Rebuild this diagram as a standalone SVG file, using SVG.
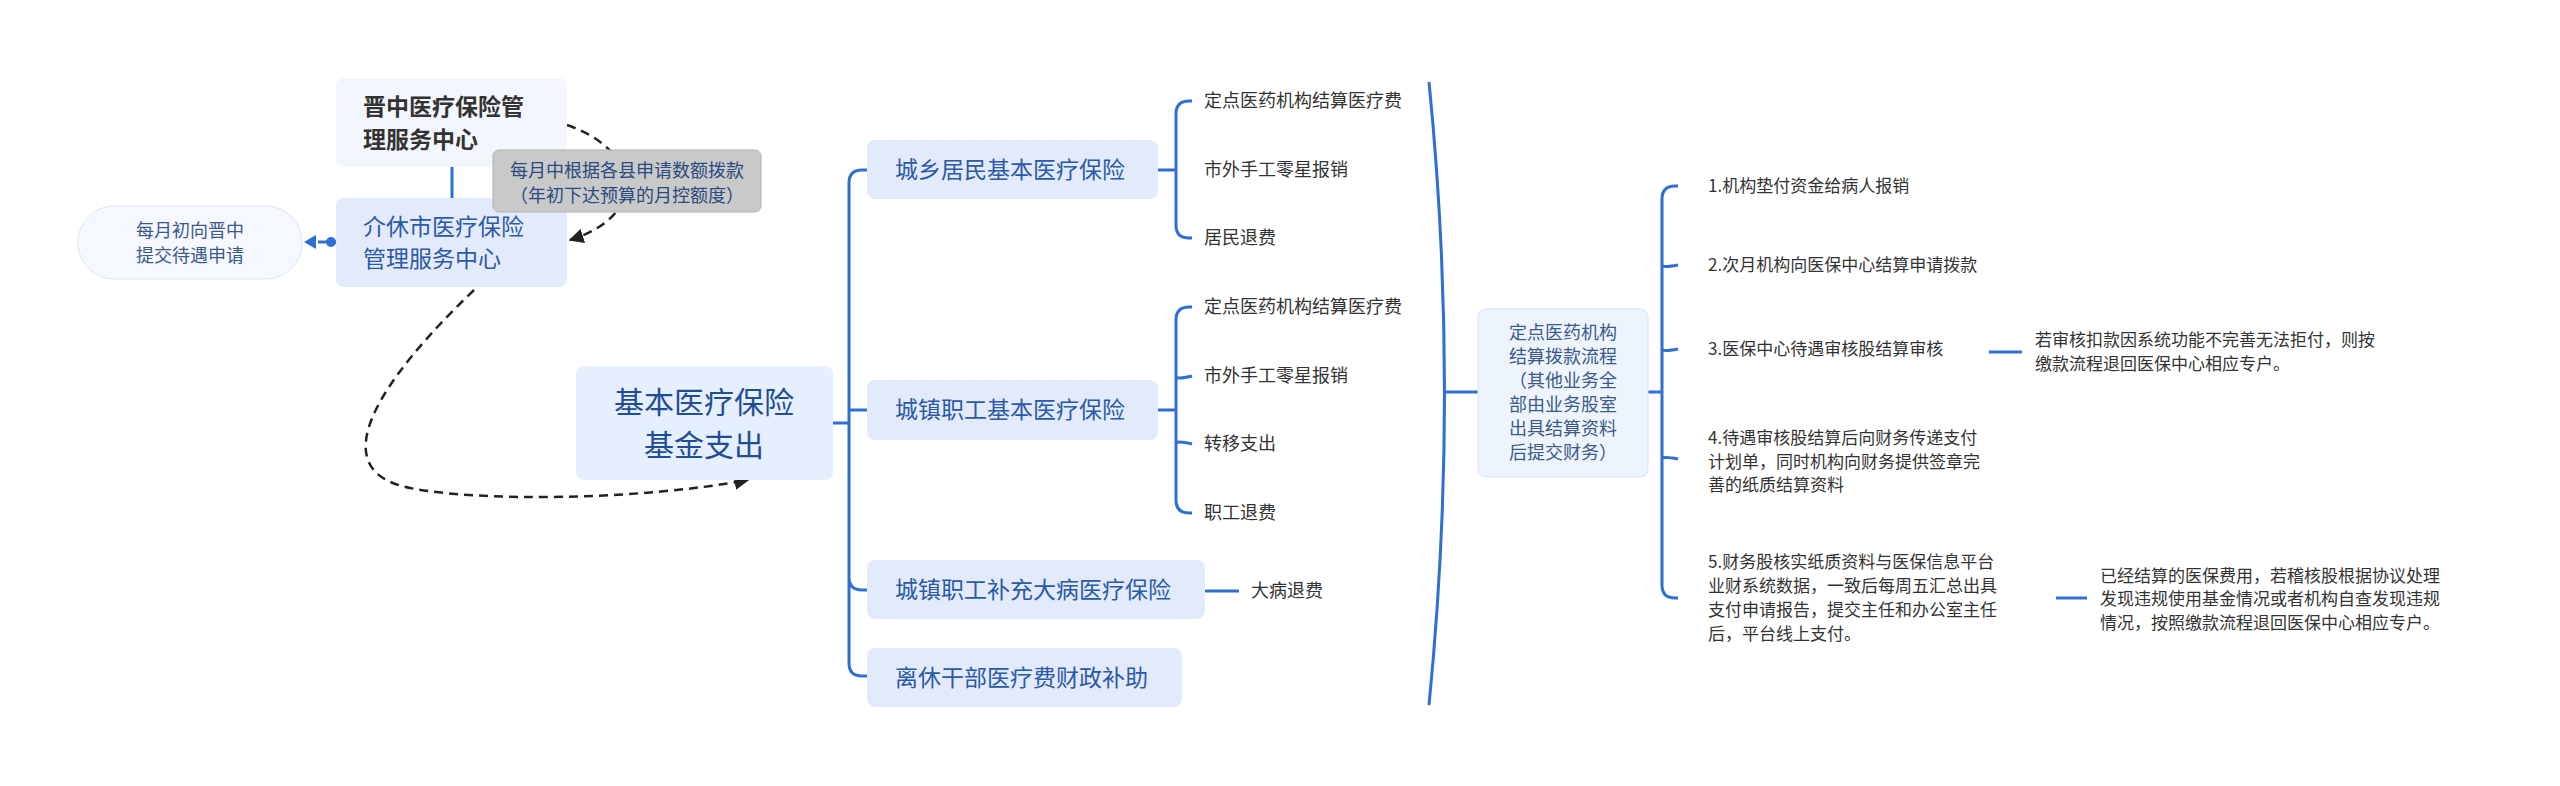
<svg xmlns="http://www.w3.org/2000/svg" width="2560" height="786" viewBox="0 0 2560 786">
<style>
text{font-family:"Noto Sans CJK SC","Noto Sans",sans-serif}
.ln{fill:none;stroke:#2f6fd2;stroke-width:3}
.ds{fill:none;stroke:#222;stroke-width:2.5;stroke-dasharray:9 6}
.l1{fill:#e2eafb}
.t1{font-size:23px;fill:#2a5aa8}
.t2{font-size:18px;fill:#333}
.t3{font-size:17px;fill:#333}
</style>
<defs>
<marker id="ah" viewBox="0 0 10 10" refX="9" refY="5" markerWidth="6" markerHeight="6" orient="auto"><path d="M0,0L10,5L0,10z" fill="#222"/></marker>
</defs>
<rect width="2560" height="786" fill="#fff"/>
<g id="connectors">
<line class="ln" x1="452" y1="167" x2="452" y2="198"/>
<line class="ln" x1="336" y1="242" x2="318" y2="242"/>
<circle cx="331" cy="242" r="5" fill="#2f6fd2"/>
<path d="M304,242L316,235L316,249z" fill="#2f6fd2"/>
<path class="ds" d="M567,125 C640,150 650,215 570,240" marker-end="url(#ah)"/>
<path class="ds" d="M474,290 C380,380 320,470 410,488 C480,502 640,500 748,480" marker-end="url(#ah)"/>
<path class="ln" d="M833,423H849M867,170H862Q849,170 849,183V663Q849,676 862,676H867M849,410H867M849,577Q849,590 862,590H867"/>
<path class="ln" d="M1158,170H1176M1192,101H1189Q1176,101 1176,114V225Q1176,238 1189,238H1192"/>
<path class="ln" d="M1158,410H1176M1192,307H1189Q1176,307 1176,320V500Q1176,513 1189,513H1192M1176,376Q1176,380 1192,376M1176,444Q1176,440 1192,444"/>
<line class="ln" x1="1205" y1="591" x2="1239" y2="591"/>
<path class="ln" d="M1429,82 Q1460,392 1429,705M1445,392H1478"/>
<path class="ln" d="M1648,392H1662M1678,186H1675Q1662,186 1662,199V585Q1662,598 1675,598H1678M1662,265Q1662,268 1678,265M1662,349Q1662,352 1678,349M1662,459Q1662,456 1678,459"/>
<line class="ln" x1="1989" y1="352" x2="2022" y2="352"/>
<line class="ln" x1="2056" y1="598" x2="2087" y2="598"/>
</g>
<g id="n-jinzhong"><rect x="336" y="78" width="231" height="89" rx="8" fill="#f3f6fc"/>
<text x="363" y="115" font-size="23" font-weight="bold" fill="#333">晋中医疗保险管</text><text x="363" y="148" font-size="23" font-weight="bold" fill="#333">理服务中心</text></g>
<g id="n-jiexiu"><rect x="336" y="198" width="231" height="89" rx="8" fill="#e3eafc"/>
<text class="t1" x="363" y="235">介休市医疗保险</text><text class="t1" x="363" y="267">管理服务中心</text></g>
<g id="n-label"><rect x="493" y="150" width="268" height="62" rx="6" fill="#c9c9c9" stroke="#b0b0b0"/>
<text x="627" y="177" font-size="18" fill="#2a4a80" text-anchor="middle">每月中根据各县申请数额拨款</text><text x="627" y="202" font-size="18" fill="#2a4a80" text-anchor="middle">（年初下达预算的月控额度）</text></g>
<g id="n-monthly"><rect x="78" y="206" width="224" height="73" rx="36" fill="#f5f8fe" stroke="#dde5f2"/>
<text x="190" y="237" font-size="18" fill="#3a5a8a" text-anchor="middle">每月初向晋中</text><text x="190" y="262" font-size="18" fill="#3a5a8a" text-anchor="middle">提交待遇申请</text></g>
<g id="n-main"><rect x="576" y="366" width="257" height="114" rx="8" fill="#e6effd"/>
<text x="704" y="413" font-size="30" fill="#1f4e96" text-anchor="middle">基本医疗保险</text><text x="704" y="456" font-size="30" fill="#1f4e96" text-anchor="middle">基金支出</text></g>
<g id="n-cx"><rect class="l1" x="867" y="140" width="291" height="59" rx="8"/><text class="t1" x="895" y="178">城乡居民基本医疗保险</text></g>
<g id="n-cz"><rect class="l1" x="867" y="380" width="291" height="60" rx="8"/><text class="t1" x="895" y="418">城镇职工基本医疗保险</text></g>
<g id="n-bc"><rect class="l1" x="867" y="560" width="338" height="59" rx="8"/><text class="t1" x="895" y="598">城镇职工补充大病医疗保险</text></g>
<g id="n-lx"><rect class="l1" x="867" y="648" width="315" height="59" rx="8"/><text class="t1" x="895" y="686">离休干部医疗费财政补助</text></g>
<g id="n-sub1">
<text class="t2" x="1204" y="107">定点医药机构结算医疗费</text>
<text class="t2" x="1204" y="176">市外手工零星报销</text>
<text class="t2" x="1204" y="244">居民退费</text>
<text class="t2" x="1204" y="313">定点医药机构结算医疗费</text>
<text class="t2" x="1204" y="382">市外手工零星报销</text>
<text class="t2" x="1204" y="450">转移支出</text>
<text class="t2" x="1204" y="519">职工退费</text>
<text class="t2" x="1251" y="597">大病退费</text>
</g>
<g id="n-dd"><rect x="1478" y="309" width="170" height="168" rx="8" fill="#eef4fd" stroke="#d6e2f5"/>
<text x="1563" y="339" font-size="18" fill="#3a5a8a" text-anchor="middle">定点医药机构</text>
<text x="1563" y="363" font-size="18" fill="#3a5a8a" text-anchor="middle">结算拨款流程</text>
<text x="1563" y="387" font-size="18" fill="#3a5a8a" text-anchor="middle">（其他业务全</text>
<text x="1563" y="411" font-size="18" fill="#3a5a8a" text-anchor="middle">部由业务股室</text>
<text x="1563" y="435" font-size="18" fill="#3a5a8a" text-anchor="middle">出具结算资料</text>
<text x="1563" y="459" font-size="18" fill="#3a5a8a" text-anchor="middle">后提交财务）</text>
</g>
<g id="n-steps">
<text class="t3" x="1708" y="192">1.机构垫付资金给病人报销</text>
<text class="t3" x="1708" y="271">2.次月机构向医保中心结算申请拨款</text>
<text class="t3" x="1708" y="355">3.医保中心待遇审核股结算审核</text>
<text class="t3" x="1708" y="444">4.待遇审核股结算后向财务传递支付</text>
<text class="t3" x="1708" y="468">计划单，同时机构向财务提供签章完</text>
<text class="t3" x="1708" y="491">善的纸质结算资料</text>
<text class="t3" x="1708" y="568">5.财务股核实纸质资料与医保信息平台</text>
<text class="t3" x="1708" y="592">业财系统数据，一致后每周五汇总出具</text>
<text class="t3" x="1708" y="616">支付申请报告，提交主任和办公室主任</text>
<text class="t3" x="1708" y="640">后，平台线上支付。</text>
</g>
<g id="n-notes">
<text class="t3" x="2035" y="346">若审核扣款因系统功能不完善无法拒付，则按</text>
<text class="t3" x="2035" y="370">缴款流程退回医保中心相应专户。</text>
<text class="t3" x="2100" y="582">已经结算的医保费用，若稽核股根据协议处理</text>
<text class="t3" x="2100" y="605">发现违规使用基金情况或者机构自查发现违规</text>
<text class="t3" x="2100" y="629">情况，按照缴款流程退回医保中心相应专户。</text>
</g>
</svg>
